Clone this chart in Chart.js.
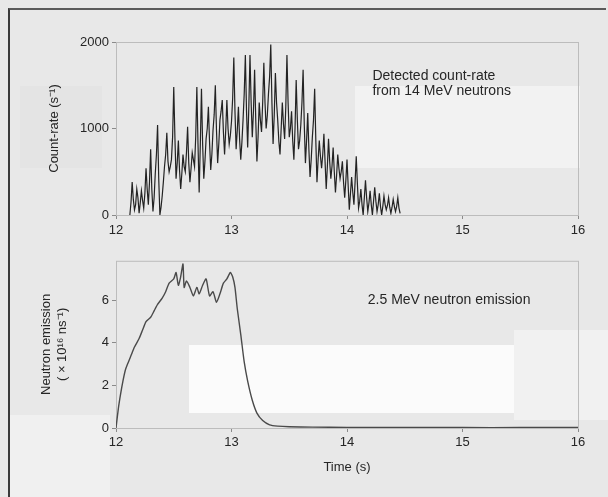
<!DOCTYPE html>
<html>
<head>
<meta charset="utf-8">
<script src="https://cdn.jsdelivr.net/npm/chart.js@4/dist/chart.umd.min.js"></script>
<style>
  body { margin: 0; width: 608px; height: 497px; overflow: hidden; position: relative; background: #e8e8e8; font-family: "Liberation Sans", Arial, sans-serif; }
  .frame { position: absolute; left: 8px; top: 8px; width: 596px; height: 500px; border-left: 2px solid #3a3a3a; border-top: 2px solid #5a5a5a; }
  .patch { position: absolute; }
  canvas { position: absolute; left: 0; }
</style>
</head>
<body>
<div class="patch" style="left:355px;top:86px;width:225px;height:82px;background:#f2f2f2"></div>
<div class="patch" style="left:20px;top:86px;width:82px;height:82px;background:#e4e4e4"></div>
<div class="patch" style="left:189px;top:345px;width:325px;height:68px;background:#fbfbfb"></div>
<div class="patch" style="left:514px;top:330px;width:94px;height:90px;background:#f1f1f1"></div>
<div class="patch" style="left:10px;top:415px;width:100px;height:82px;background:#f0f0f0"></div>
<div class="frame"></div>
<canvas id="topChart" width="608" height="250" style="top:0"></canvas>
<canvas id="bottomChart" width="608" height="247" style="top:250px"></canvas>
<script>
// Time axis ticks shared by both panels
let timeTicks = [12, 13, 14, 15, 16]

// Top panel: 14 MeV count-rate
// countRate holds samples at 12.12, 12.14, ... and countRateMid the samples halfway between them
let countStart = 12.12
let countStep = 0.02
let countRate = [
    0, 380, 60, 300, 20, 280, 80, 540, 120, 760,
    40, 480, 1040, 0, 220, 560, 950, 500, 640, 1480,
    420, 860, 300, 700, 500, 1020, 380, 720, 560, 1480,
    260, 1460, 420, 880, 1250, 520, 980, 1500, 600, 1100,
    1330, 700, 1330, 820, 1080, 1820, 760, 1250, 640, 1100,
    1850, 780, 1850, 900, 1680, 620, 1300, 960, 1760, 1000,
    1400, 1970, 820, 1640, 1100, 700, 1300, 880, 1850, 900,
    1200, 640, 1560, 760, 1040, 1680, 600, 1180, 440, 900,
    1460, 380, 860, 540, 940, 300, 880, 420, 780, 260,
    700, 420, 620, 200, 640, 60, 440, 120, 680, 80,
    300, 0, 400, 40, 280, 0, 320, 40, 250, 0,
    220, 60, 200, 20, 180, 40, 200, 20
]
let countRateMid = [
    150, 180, 120, 200, 140, 170, 250, 300, 380, 300,
    200, 700, 420, 90, 380, 700, 620, 560, 900, 900,
    600, 520, 480, 560, 720, 600, 540, 640, 900, 820,
    820, 820, 620, 1000, 840, 700, 1160, 980, 820, 1200,
    960, 980, 1000, 920, 1350, 1200, 980, 880, 840, 1400,
    1200, 1250, 1300, 1200, 1100, 900, 1100, 1300, 1300, 1150,
    1600, 1300, 1150, 1300, 850, 1000, 1050, 1250, 1300, 1000,
    860, 1000, 1100, 860, 1300, 1050, 860, 760, 640, 1100,
    860, 640, 680, 700, 620, 560, 620, 560, 500, 460,
    540, 500, 380, 400, 340, 250, 260, 380, 360, 160,
    120, 200, 200, 140, 120, 160, 160, 120, 100, 100,
    120, 110, 90, 90, 100, 100, 80
]
let countTicks = [0, 1000, 2000]

// Bottom panel: 2.5 MeV neutron emission
let emissionTimes = [
    12.0, 12.02, 12.04, 12.06, 12.08, 12.1, 12.13, 12.16, 12.2, 12.23,
    12.26, 12.3, 12.33, 12.36, 12.4, 12.43, 12.46, 12.5, 12.52, 12.54,
    12.56, 12.58, 12.59, 12.61, 12.64, 12.67, 12.7, 12.72, 12.75, 12.78,
    12.81, 12.84, 12.87, 12.9, 12.93, 12.96, 12.99, 13.01, 13.03, 13.05,
    13.08, 13.11, 13.14, 13.18, 13.22, 13.27, 13.33, 13.4, 13.5, 13.7,
    14.0, 14.5, 15.0, 15.5, 16.0
]
let emissionValues = [
    0, 0.9, 1.6, 2.2, 2.7, 3.0, 3.4, 3.8, 4.2, 4.6,
    5.0, 5.2, 5.5, 5.8, 6.1, 6.4, 6.8, 7.0, 7.3, 6.7,
    7.1, 7.7, 6.6, 6.9, 6.6, 6.2, 6.6, 6.3, 6.7, 7.0,
    6.2, 6.4, 5.9, 6.3, 6.8, 7.0, 7.3, 7.1, 6.6, 5.6,
    4.4, 3.1, 2.2, 1.3, 0.7, 0.35, 0.15, 0.09, 0.06, 0.04,
    0.03, 0.03, 0.02, 0.02, 0.02
]
let emissionTicks = [0, 2, 4, 6]

let tickFont = { family: '"Liberation Sans", Arial, sans-serif', size: 13 }
let textColor = '#262626'

// Merge the two count-rate arrays into one time-ordered series
let countPoints = []
countRate.forEach(function(v, i) {
    countPoints.push({ x: countStart + i * countStep, y: v })
    if (i < countRateMid.length) {
        countPoints.push({ x: countStart + i * countStep + countStep / 2, y: countRateMid[i] })
    }
})

// Light frame around each plot area
let framePlugin = {
    id: 'frame',
    beforeDatasetsDraw(chart) {
        let a = chart.chartArea
        let ctx = chart.ctx
        ctx.save()
        ctx.strokeStyle = '#bcbcbc'
        ctx.lineWidth = 1
        ctx.strokeRect(a.left + 0.5, a.top + 0.5, a.right - a.left, a.bottom - a.top)
        ctx.restore()
    }
}

// Text notes inside the panels, placed in data coordinates
let notePlugin = {
    id: 'notes',
    afterDatasetsDraw(chart, args, opts) {
        let ctx = chart.ctx
        ctx.save()
        ctx.fillStyle = textColor
        ctx.font = '14px "Liberation Sans", Arial, sans-serif'
        ctx.textBaseline = 'middle'
        opts.lines.forEach(function(line) {
            ctx.fillText(line.text, chart.scales.x.getPixelForValue(line.x), chart.scales.y.getPixelForValue(line.y))
        })
        ctx.restore()
    }
}

function timeAxis(height, labelPad, title) {
    return {
        type: 'linear',
        min: 12,
        max: 16,
        afterFit(scale) { scale.height = height },
        afterBuildTicks(scale) { scale.ticks = timeTicks.map(v => ({ value: v })) },
        grid: { drawOnChartArea: false, tickLength: 4, color: '#8a8a8a' },
        border: { display: false },
        ticks: { font: tickFont, color: textColor, padding: labelPad, maxRotation: 0, callback: v => String(v) },
        title: title
    }
}

function valueAxis(ticks, max, title) {
    return {
        min: 0,
        max: max,
        afterFit(scale) { scale.width = 116 },
        afterBuildTicks(scale) { scale.ticks = ticks.map(v => ({ value: v })) },
        grid: { drawOnChartArea: false, tickLength: 4, color: '#8a8a8a' },
        border: { display: false },
        ticks: { font: tickFont, color: textColor, padding: 3, callback: v => String(v) },
        title: title
    }
}

new Chart(document.getElementById('topChart'), {
    type: 'line',
    data: {
        datasets: [{
            data: countPoints,
            borderColor: '#232323',
            borderWidth: 1.2,
            pointRadius: 0,
            tension: 0
        }]
    },
    options: {
        responsive: false,
        animation: false,
        layout: { padding: { left: 0, right: 30, top: 42, bottom: 0 } },
        plugins: {
            legend: { display: false },
            tooltip: { enabled: false },
            notes: { lines: [
                { text: 'Detected count-rate', x: 14.22, y: 1610 },
                { text: 'from 14 MeV neutrons', x: 14.22, y: 1430 }
            ] }
        },
        scales: {
            x: timeAxis(35, 4, { display: false }),
            y: valueAxis(countTicks, 2000, { display: true, text: 'Count-rate (s⁻¹)', font: tickFont, color: textColor, padding: { top: 47 } })
        }
    },
    plugins: [framePlugin, notePlugin]
})

new Chart(document.getElementById('bottomChart'), {
    type: 'line',
    data: {
        datasets: [{
            data: emissionTimes.map((t, i) => ({ x: t, y: emissionValues[i] })),
            borderColor: '#4a4a4a',
            borderWidth: 1.4,
            pointRadius: 0,
            tension: 0.2
        }]
    },
    options: {
        responsive: false,
        animation: false,
        layout: { padding: { left: 0, right: 30, top: 3, bottom: 0 } },
        plugins: {
            legend: { display: false },
            tooltip: { enabled: false },
            notes: { lines: [
                { text: '2.5 MeV neutron emission', x: 14.18, y: 6.0 }
            ] }
        },
        scales: {
            x: timeAxis(69, 3, { display: true, text: 'Time (s)', font: tickFont, color: textColor, padding: { bottom: 22 } }),
            y: valueAxis(emissionTicks, 7.85, { display: true, text: ['Neutron emission', '( × 10¹⁶ ns⁻¹)'], font: tickFont, color: textColor, padding: { top: 39 } })
        }
    },
    plugins: [framePlugin, notePlugin]
})
</script>
</body>
</html>
